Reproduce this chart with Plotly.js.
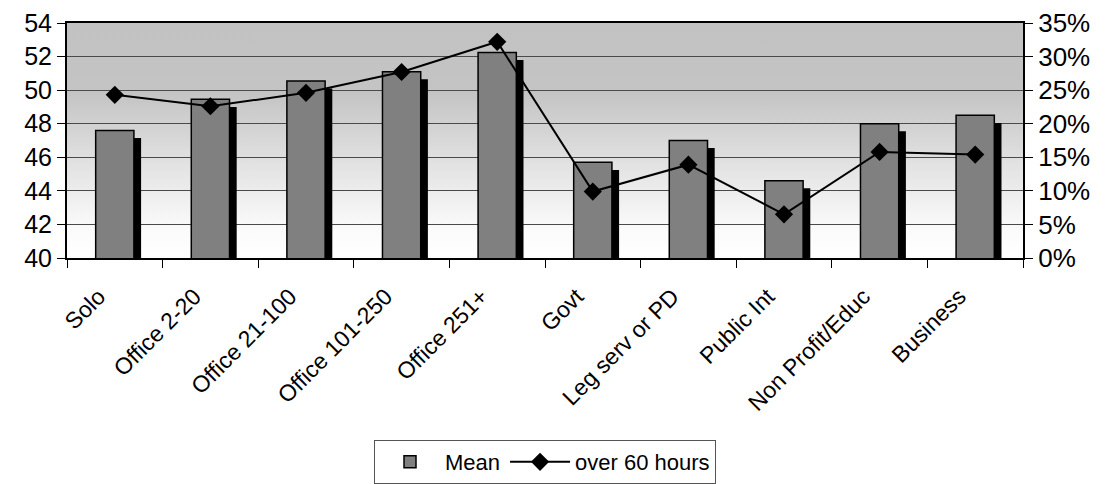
<!DOCTYPE html>
<html>
<head>
<meta charset="utf-8">
<script src="https://cdn.plot.ly/plotly-3.0.1.min.js"></script>
<style>
html,body{margin:0;padding:0;background:#fff;}
#chart{width:1115px;height:484px;}
</style>
</head>
<body>
<div id="chart"></div>
<script>
// Data
const categories = ["Solo","Office 2-20","Office 21-100","Office 101-250","Office 251+","Govt","Leg serv or PD","Public Int","Non Profit/Educ","Business"];
const meanHours = [47.6, 49.45, 50.55, 51.1, 52.25, 45.7, 47.0, 44.6, 48.0, 48.5];
const over60 = [0.243, 0.226, 0.246, 0.277, 0.322, 0.099, 0.139, 0.065, 0.158, 0.154];
const leftTicks = [40,42,44,46,48,50,52,54];
const rightTicks = [0,0.05,0.10,0.15,0.20,0.25,0.30,0.35];

const FONT = "Liberation Sans, Arial, sans-serif";
const barW = 0.40;
const shadowDrop = 0.45;   // visual drop of the 3D shadow (in axis units)

const shadow = {
  type: "bar", x: categories, y: meanHours.map(v => v - shadowDrop),
  width: barW, offset: -barW/2 + 0.075,
  marker: {color: "#000", line: {width: 0}},
  showlegend: false, hoverinfo: "skip", yaxis: "y"
};
const bars = {
  type: "bar", name: "Mean", x: categories, y: meanHours,
  width: barW, offset: -barW/2,
  marker: {color: "#808080", line: {color: "#000", width: 1.5}},
  yaxis: "y"
};
const line = {
  type: "scatter", mode: "lines+markers", name: "over 60 hours",
  x: categories, y: over60, yaxis: "y2",
  line: {color: "#000", width: 2},
  marker: {symbol: "diamond", size: 14, color: "#000"}
};

const grad = "<svg xmlns='http://www.w3.org/2000/svg' width='10' height='100' preserveAspectRatio='none'>" +
  "<defs><linearGradient id='g' x1='0' y1='0' x2='0' y2='1'>" +
  "<stop offset='0' stop-color='#c2c2c2'/><stop offset='0.3' stop-color='#c4c4c4'/>" +
  "<stop offset='0.6' stop-color='#e2e2e2'/><stop offset='0.88' stop-color='#fbfbfb'/>" +
  "<stop offset='1' stop-color='#ffffff'/></linearGradient></defs>" +
  "<rect width='10' height='100' fill='url(#g)'/></svg>";

const layout = {
  width: 1115, height: 484,
  margin: {l: 67, r: 92, t: 23, b: 226},
  paper_bgcolor: "#fff",
  plot_bgcolor: "rgba(0,0,0,0)",
  barmode: "overlay",
  font: {family: FONT, color: "#000"},
  images: [{
    source: "data:image/svg+xml;utf8," + encodeURIComponent(grad),
    xref: "paper", yref: "paper", x: 0, y: 1, sizex: 1, sizey: 1,
    xanchor: "left", yanchor: "top", sizing: "stretch", layer: "below"
  }],
  xaxis: {
    type: "category", tickangle: -45,
    tickfont: {size: 23, family: FONT},
    ticklabelstandoff: 14, ticklabelshift: -16,
    showline: true, linecolor: "#000", linewidth: 2, mirror: true,
    ticks: "outside", ticklen: 8, tickcolor: "#000", tickson: "boundaries",
    showgrid: false, range: [-0.5, 9.5], fixedrange: true, automargin: false
  },
  yaxis: {
    range: [40, 54], tickvals: leftTicks,
    tickfont: {size: 25, family: FONT},
    showline: true, linecolor: "#000", linewidth: 2,
    ticks: "outside", ticklen: 8, tickcolor: "#000",
    showgrid: true, gridcolor: "#4a4a4a", gridwidth: 1,
    zeroline: false, automargin: false
  },
  yaxis2: {
    range: [0, 0.35], tickvals: rightTicks, tickformat: ".0%",
    overlaying: "y", side: "right",
    tickfont: {size: 26, family: FONT},
    showline: true, linecolor: "#000", linewidth: 2,
    ticks: "outside", ticklen: 8, tickcolor: "#000",
    showgrid: false, zeroline: false, automargin: false
  },
  legend: {
    orientation: "h", x: 0.5, xanchor: "center",
    yref: "container", y: 0, yanchor: "bottom",
    font: {size: 22, family: FONT},
    bordercolor: "#555", borderwidth: 1, bgcolor: "#fff",
    itemwidth: 60
  }
};

Plotly.newPlot("chart", [shadow, bars, line], layout, {staticPlot: true});
</script>
</body>
</html>
